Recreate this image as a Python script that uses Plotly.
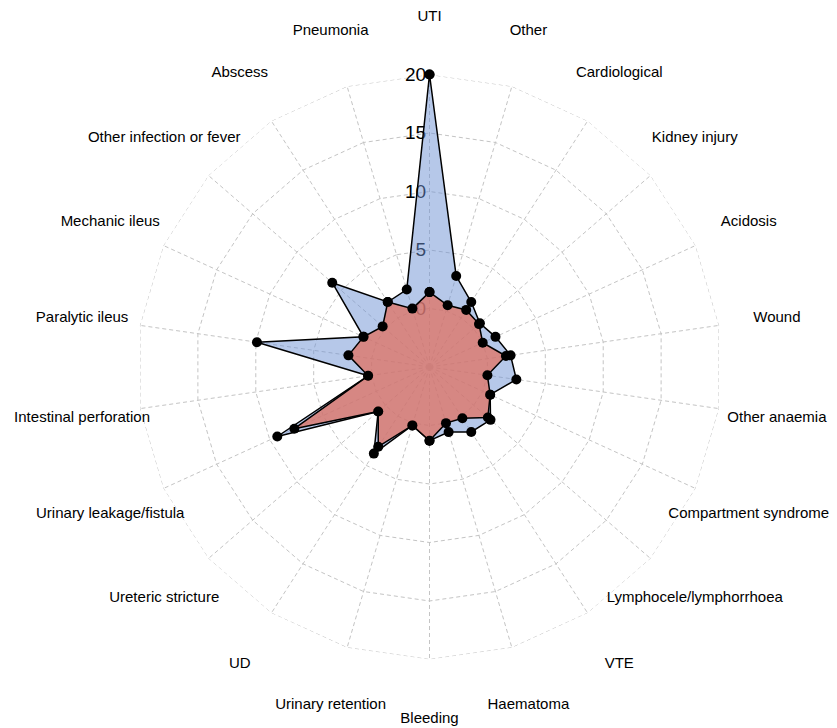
import plotly.graph_objects as go

categories = ["UTI", "Other", "Cardiological", "Kidney injury", "Acidosis", "Wound",
              "Other anaemia", "Compartment syndrome", "Lymphocele/lymphorrhoea", "VTE",
              "Haematoma", "Bleeding", "Urinary retention", "UD", "Ureteric stricture",
              "Urinary leakage/fistula", "Intestinal perforation", "Paralytic ileus",
              "Mechanic ileus", "Other infection or fever", "Abscess", "Pneumonia"]

blue_values = [20.0, 3.1, 1.6, 0.7, 1.2, 2.0, 2.5, 0.7, 1.9, 1.6, 0.8, 1.3,
               0.2, 3.8, 0.8, 9.3, 0.3, 9.9, 1.2, 6.0, 1.6, 1.9]
red_values = [1.4, 0.5, 0.8, 0.6, 0.0, 1.6, 0.0, 0.7, 1.6, 0.2, 0.0, 1.3,
              0.2, 3.1, 0.8, 7.7, 0.3, 2.0, 1.2, 0.3, 1.6, 0.2]

radial_ticks = [0, 5, 10, 15, 20]
axis_min = -5          # value at the centre of the radar
axis_max = 20

# radial scale is offset so the centre of the chart corresponds to axis_min
def to_r(vals):
    return [v - axis_min for v in vals]

def closed(vals):
    return list(vals) + [vals[0]]

FONT = "Liberation Sans, Arial, Helvetica, sans-serif"
GRID = "#c4c4c4"
DASH = "4px,3px"

W, H = 837, 728
CX, CY = 421.5, 359.0          # centre of the radar within the figure (px)
CY_LABEL = 360.5               # centre used for the category label ring
R_PLOT, R_LABEL, R_OUTER = 292.5, 351.0, 358.0

def dom(radius, cy):
    return (dict(x=[(CX - radius) / W, (CX + radius) / W],
                 y=[(H - cy - radius) / H, (H - cy + radius) / H]))

fig = go.Figure()

# outer dashed ring at axis_max (same style as the other rings)
fig.add_trace(go.Scatterpolar(
    r=closed(to_r([axis_max] * len(categories))), theta=closed(categories),
    mode="lines", line=dict(color=GRID, width=1, dash=DASH),
    hoverinfo="skip", showlegend=False, subplot="polar"))

fig.add_trace(go.Scatterpolar(
    r=closed(to_r(blue_values)), theta=closed(categories),
    mode="lines+markers", fill="toself",
    fillcolor="rgba(110,146,212,0.5)",
    line=dict(color="black", width=1.5),
    marker=dict(color="black", size=10),
    hoverinfo="skip", showlegend=False, subplot="polar"))

fig.add_trace(go.Scatterpolar(
    r=closed(to_r(red_values)), theta=closed(categories),
    mode="lines+markers", fill="toself",
    fillcolor="rgba(226,110,92,0.72)",
    line=dict(color="black", width=1.5),
    marker=dict(color="black", size=10),
    hoverinfo="skip", showlegend=False, subplot="polar"))

# category labels, on an outer transparent polar subplot sharing the same centre
fig.add_trace(go.Scatterpolar(
    r=[1] * len(categories), theta=categories,
    mode="text", text=categories, textposition="middle center",
    textfont=dict(family=FONT, size=15, color="black"),
    cliponaxis=False, hoverinfo="skip", showlegend=False, subplot="polar2"))

fig.update_layout(
    width=W, height=H,
    margin=dict(l=0, r=0, t=0, b=0),
    paper_bgcolor="white",
    showlegend=False,
    font=dict(family=FONT, color="black"),
    polar=dict(
        bgcolor="white",
        gridshape="linear",
        domain=dom(R_PLOT, CY),
        angularaxis=dict(
            type="category",
            rotation=90, direction="clockwise",
            categoryorder="array", categoryarray=categories,
            showticklabels=False, ticks="",
            showline=False,
            showgrid=True, gridcolor=GRID, griddash=DASH, gridwidth=1,
            layer="below traces"),
        radialaxis=dict(
            range=[0, axis_max - axis_min],
            tickvals=to_r(radial_ticks),
            ticktext=[str(v) for v in radial_ticks],
            angle=90, tickangle=90, side="counterclockwise",
            showline=False, ticks="",
            tickfont=dict(family=FONT, size=19, color="black"),
            showgrid=True, gridcolor=GRID, griddash=DASH, gridwidth=1,
            layer="below traces"),
    ),
    polar2=dict(
        bgcolor="rgba(0,0,0,0)",
        domain=dom(R_OUTER, CY_LABEL),
        angularaxis=dict(
            type="category",
            rotation=90, direction="clockwise",
            categoryorder="array", categoryarray=categories,
            showticklabels=False, ticks="", showline=False, showgrid=False),
        radialaxis=dict(range=[0, R_OUTER / R_LABEL], visible=False, showgrid=False),
    ),
)

fig.write_html("out.html")
